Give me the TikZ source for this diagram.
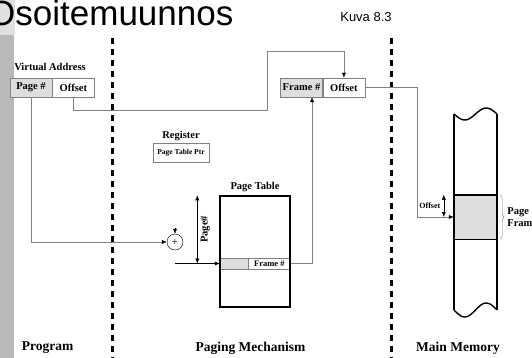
\documentclass[tikz,border=0pt]{standalone}
\usepackage{fontspec}
\setmainfont{Liberation Serif}
\newfontfamily\slidefont{Liberation Sans}
\usetikzlibrary{arrows.meta,positioning,decorations.pathreplacing}
\definecolor{shade}{gray}{0.87}
\definecolor{wire}{gray}{0.5}

\begin{document}
\begin{tikzpicture}[
    x=1pt, y=-1pt,
    every node/.style={font=\fontsize{10.5}{12}\selectfont\bfseries},
    cell/.style={draw=wire, thin, minimum width=42pt, minimum height=19pt, inner sep=0pt},
    rowcell/.style={draw=wire, thin, minimum height=11pt, inner sep=0pt, font=\fontsize{8.5}{9}\selectfont\bfseries},
    arr/.style={-{Latex[length=5pt,width=4pt]}},
    wirearr/.style={draw=wire, -{Latex[length=5pt,width=4pt,color=black]}},
    dbl/.style={{Latex[length=5pt,width=4pt]}-{Latex[length=5pt,width=4pt]}},
    divider/.style={line width=3pt, dash pattern=on 6pt off 5pt},
    heavy/.style={line width=1.4pt},
    zone/.style={font=\fontsize{13.5}{15}\selectfont\bfseries}
]
\useasboundingbox (0,0) rectangle (532,358);
% slide background
\fill[gray!25] (0,0) rectangle (15,35);
\fill[gray!55] (0,35) rectangle (14,358);
\node[anchor=base west, inner sep=0pt, font=\slidefont\fontsize{35}{40}\selectfont] (title) at (-12,26) {Osoitemuunnos};
\node[font=\slidefont\fontsize{13}{15}\selectfont] (fig) at (366,17) {Kuva 8.3};

% dividers
\draw[divider] (112,38) -- (112,358);
\draw[divider] (391,38) -- (391,358);

% virtual address
\node (va) at (50,67) {Virtual Address};
\node[cell, fill=shade] (vpage) at (31,87.5) {Page \#};
\node[cell, right=0pt of vpage] (voff) {Offset};

% physical address
\node[cell, fill=shade] (pframe) at (301.5,87.5) {Frame \#};
\node[cell, right=0pt of pframe] (poff) {Offset};

% register
\node (reg) at (181,136) {Register};
\node[draw=wire, thin, minimum width=56pt, minimum height=19pt, inner sep=0pt,
      font=\fontsize{7.5}{9}\selectfont\bfseries] (ptr) at (181,152.5) {Page Table Ptr};

% page table
\node (pttitle) at (255,187) {Page Table};
\node[rowcell, fill=shade, minimum width=28pt] (ptrow) at (234,263.5) {};
\node[rowcell, minimum width=42pt, right=0pt of ptrow] (ptframe) {Frame \#};
\node[draw, heavy, minimum width=70pt, minimum height=111pt, inner sep=0pt] (ptbox) at (255,251.5) {};

% adder
\node[circle, draw, thin, minimum size=16pt, inner sep=0pt, font=\fontsize{11}{11}\selectfont] (adder) at (175,242) {+};
\coordinate (ptrin) at ([yshift=6pt]adder.north);
\coordinate (sum) at (adder.south |- ptrow.west);
\coordinate (ptop) at ([xshift=-22pt]ptbox.north west);
\coordinate (pbot) at (ptop |- ptrow.west);
\coordinate (hop) at (267,51);

% main memory
\node[fill=shade, minimum width=43pt, minimum height=44pt, inner sep=0pt] (pf) at (475.5,217) {};
\draw[heavy] (pf.north west) -- (pf.north east) (pf.south west) -- (pf.south east);
\draw[heavy] (454,114) -- (454,310);
\draw[heavy] (497,114) -- (497,310);
\draw[heavy, smooth] plot[domain=0:1, samples=25] ({454+43*\x}, {114+6*sin(360*\x)});
\draw[heavy, smooth] plot[domain=0:1, samples=25] ({454+43*\x}, {310+7*sin(360*\x)});
\coordinate (otop) at ([xshift=-10pt]pf.north west);
\coordinate (obot) at (otop |- pf.west);

% connections
\draw[wirearr] (vpage.south) |- (adder.west);
\draw[arr] (ptrin) -- (adder.north);
\draw[arr] (sum) -- (ptrow.west);
\draw[dbl] (pbot) -- (ptop) node[midway, xshift=8pt, rotate=90] {Page\#};
\draw[wirearr] (ptframe.east) -| ([xshift=10.5pt]pframe.south);
\draw[wirearr] (voff.south) -- ++(0,13) -| (hop) -| (poff.north);
\draw[wirearr] (poff.east) -| ([xshift=-37pt]pf.west) -- (pf.west);
\draw[dbl] (otop) -- (obot) node[midway, left=0pt, font=\fontsize{8}{9}\selectfont\bfseries] {Offset};
\draw[wire, decorate, decoration={brace, amplitude=4pt}] ([xshift=3pt]pf.north east) -- ([xshift=3pt]pf.south east);
\node[anchor=west, inner sep=0pt, align=left] (pflabel) at ([xshift=10pt]pf.east) {Page\\Frame};

% zone labels
\node[zone] (prog) at (47.5,348) {Program};
\node[zone] (pm) at (250.5,348) {Paging Mechanism};
\node[zone] (mm) at (458,348) {Main Memory};
\end{tikzpicture}
\end{document}
